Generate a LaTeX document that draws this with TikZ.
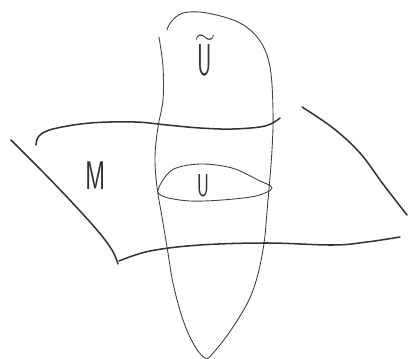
\documentclass[tikz,border=0pt]{standalone}
\tikzset{
  every node/.style={font=\sffamily},
  sheet/.style={draw=black!80,line width=1.3pt,line cap=round},
  blob/.style={draw=black!75,line width=0.75pt,line cap=round},
  lbl/.style={inner sep=0pt,text=black!80}
}

\begin{document}
\begin{tikzpicture}[x=0.03cm,y=-0.03cm]
  \useasboundingbox (0,0) rectangle (409,359);

  % La hoja M: cuatro trazos sueltos.
  \draw[sheet] plot[smooth,tension=0.6] coordinates
    {(36,145) (39,136) (53,129) (90,123) (135,122) (167,125) (200,128) (233,129) (265,126) (280,118)};
  \draw[sheet] plot[smooth,tension=0.6] coordinates
    {(11,140) (37,166) (67,197) (97,230) (112,250) (118,264)};
  \draw[sheet] plot[smooth,tension=0.6] coordinates
    {(119,261) (150,251) (200,245) (267,243) (333,245) (367,242) (400,237)};
  \draw[sheet] plot[smooth,tension=0.6] coordinates
    {(302,107) (333,128) (360,153) (383,184) (407,215)};

  % El abierto U-tilde, un lazo alargado que atraviesa la hoja.
  \draw[blob] plot[smooth,tension=0.6] coordinates
    {(159,37) (163,67) (163,100) (158,127) (155,157) (157,187) (162,217)
     (168,253) (173,283) (182,317) (193,343) (205,358) (214,352) (233,327)
     (252,293) (263,250) (268,200) (272,150) (273,110) (270,67) (260,41)
     (240,23) (207,13) (183,13) (171,22) (167,30)};

  % El disco U sobre M.
  \draw[blob] plot[smooth cycle,tension=0.55] coordinates
    {(158,190) (172,170) (200,164) (232,168) (258,180) (272,188)
     (256,196) (222,200) (190,201) (165,197)};

  % Etiquetas.
  \node[lbl] (ut) at (205,56) {\fontsize{38}{38}\selectfont
    \shortstack{\scalebox{0.9}[0.8]{$\sim$}\\[-2pt]\scalebox{0.5}[1]{U}}};
  \node[lbl] (m) at (96,176) {\fontsize{34}{34}\selectfont\scalebox{0.62}[1]{M}};
  \node[lbl] (u) at (203,186) {\fontsize{27}{27}\selectfont\scalebox{0.6}[1]{U}};
\end{tikzpicture}
\end{document}
